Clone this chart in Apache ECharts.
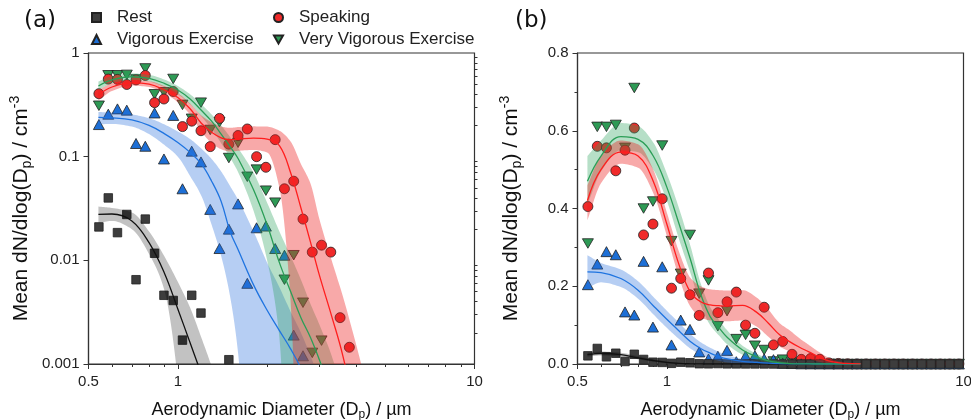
<!DOCTYPE html>
<html>
<head>
<meta charset="utf-8">
<script src="https://cdn.jsdelivr.net/npm/echarts@6/dist/echarts.min.js"></script>
<style>
  html, body { margin: 0; padding: 0; background: #fff; }
  #chart { width: 971px; height: 420px; }
</style>
</head>
<body>
<div id="chart"></div>
<script>
// APS channel midpoints (µm)
const binDiameters = [
  0.542, 0.583, 0.626, 0.673, 0.723, 0.777, 0.835, 0.898, 0.965, 1.037,
  1.114, 1.197, 1.286, 1.382, 1.486, 1.596, 1.715, 1.843, 1.981, 2.129,
  2.288, 2.458, 2.642, 2.839, 3.051, 3.278, 3.523, 3.786, 4.068, 4.371,
  4.698, 5.048, 5.425, 5.829, 6.264, 6.732, 7.234, 7.774, 8.354, 8.977,
  9.647
]
const restValues = [
  0.021, 0.040, 0.0185, 0.0277, 0.0065, 0.025, 0.0117, 0.0046, 0.0041, 0.0017,
  0.0046, 0.0031, 0.0007, 0.0005, 0.0011, 0.0004, 0.0003, 0.0002, 0.0002, 0.0001,
  0, 0, 0, 0, 0, 0, 0, 0, 0, 0,
  0, 0, 0, 0, 0, 0, 0, 0, 0, 0,
  0
]
const speakingValues = [
  0.405, 0.56, 0.556, 0.497, 0.55, 0.607, 0.332, 0.36, 0.425, 0.195,
  0.22, 0.178, 0.125, 0.234, 0.132, 0.16, 0.185, 0.10, 0.079, 0.146,
  0.049, 0.058, 0.025, 0.012, 0.014, 0.012, 0.0028, 0.00145, 0.0005, 0.0003,
  0.0002, 0, 0, 0, 0, 0, 0, 0, 0, 0,
  0
]
const vigorousValues = [
  0.204, 0.257, 0.289, 0.281, 0.134, 0.126, 0.264, 0.095, 0.25, 0.049,
  0.113, 0.089, 0.031, 0.013, 0.02, 0.035, 0.006, 0.0206, 0.0214, 0.013,
  0.0112, 0.0019, 0.0012, 0.0004, 0.0003, 0.0002, 0.0001, 0, 0, 0,
  0, 0, 0, 0, 0, 0, 0, 0, 0, 0,
  0
]
const veryVigorousValues = [
  0.31, 0.61, 0.61, 0.615, 0.556, 0.71, 0.40, 0.418, 0.562, 0.316,
  0.232, 0.332, 0.181, 0.215, 0.097, 0.136, 0.064, 0.075, 0.047, 0.036,
  0.0065, 0.0112, 0.0039, 0.00128, 0.00168, 0.0006, 0.0004, 0.0002, 0, 0,
  0, 0, 0, 0, 0, 0, 0, 0, 0, 0,
  0
]

// fit curves, read at these diameters
const fitDiameters = [0.54, 0.6, 0.7, 0.8, 0.9, 1.0, 1.1, 1.2, 1.3, 1.4, 1.5, 1.6, 1.8, 2.0, 2.2, 2.4, 2.6, 2.8, 3.0, 3.3, 3.6, 4.0, 4.5]

// (a) log fit: line, lower and upper edge of the band
const restFitA = [0.0277, 0.028, 0.024, 0.0148, 0.0076, 0.0034, 0.0016, 0.0008, 0.0004, 0.0002, 1e-4, 5e-5, 1e-5, 1e-6, 1e-6, 1e-6, 1e-6, 1e-6, 1e-6, 1e-6, 1e-6, 1e-6, 1e-6]
const restLoA = [0.023, 0.024, 0.020, 0.0115, 0.0052, 0.0007, 1e-5, 1e-6, 1e-6, 1e-6, 1e-6, 1e-6, 1e-6, 1e-6, 1e-6, 1e-6, 1e-6, 1e-6, 1e-6, 1e-6, 1e-6, 1e-6, 1e-6]
const restHiA = [0.033, 0.032, 0.029, 0.019, 0.011, 0.0062, 0.0035, 0.0018, 0.00095, 0.0005, 0.00025, 0.0001, 2e-5, 1e-6, 1e-6, 1e-6, 1e-6, 1e-6, 1e-6, 1e-6, 1e-6, 1e-6, 1e-6]

const vigorousFitA = [0.239, 0.237, 0.226, 0.20, 0.167, 0.137, 0.11, 0.085, 0.058, 0.037, 0.019, 0.0125, 0.0058, 0.0033, 0.0021, 0.0014, 0.0009, 0.0005, 0.0003, 0.00012, 5e-5, 1e-5, 1e-6]
const vigorousLoA = [0.205, 0.207, 0.195, 0.165, 0.13, 0.10, 0.065, 0.042, 0.022, 0.011, 0.0045, 0.0012, 1e-5, 1e-6, 1e-6, 1e-6, 1e-6, 1e-6, 1e-6, 1e-6, 1e-6, 1e-6, 1e-6]
const vigorousHiA = [0.27, 0.265, 0.255, 0.235, 0.205, 0.175, 0.148, 0.12, 0.095, 0.072, 0.052, 0.038, 0.019, 0.0095, 0.0055, 0.0032, 0.002, 0.0012, 0.0007, 0.0003, 0.0001, 2e-5, 1e-6]

const speakingFitA = [0.395, 0.47, 0.515, 0.50, 0.44, 0.372, 0.29, 0.21, 0.172, 0.152, 0.146, 0.148, 0.151, 0.148, 0.128, 0.07, 0.032, 0.015, 0.0072, 0.0029, 0.0012, 0.0003, 5e-5]
const speakingLoA = [0.35, 0.43, 0.485, 0.47, 0.41, 0.335, 0.255, 0.175, 0.135, 0.118, 0.112, 0.114, 0.116, 0.11, 0.05, 0.004, 1e-5, 1e-6, 1e-6, 1e-6, 1e-6, 1e-6, 1e-6]
const speakingHiA = [0.44, 0.51, 0.55, 0.535, 0.48, 0.41, 0.325, 0.25, 0.215, 0.195, 0.19, 0.193, 0.196, 0.195, 0.178, 0.14, 0.085, 0.055, 0.025, 0.01, 0.0045, 0.0015, 0.0004]

const veryVigorousFitA = [0.48, 0.55, 0.59, 0.57, 0.51, 0.44, 0.36, 0.28, 0.22, 0.165, 0.125, 0.095, 0.048, 0.022, 0.0095, 0.005, 0.0028, 0.0018, 0.0011, 0.0005, 0.0002, 5e-5, 1e-6]
const veryVigorousLoA = [0.44, 0.51, 0.55, 0.53, 0.47, 0.40, 0.32, 0.245, 0.185, 0.135, 0.098, 0.07, 0.03, 0.01, 0.0018, 1e-5, 1e-6, 1e-6, 1e-6, 1e-6, 1e-6, 1e-6, 1e-6]
const veryVigorousHiA = [0.53, 0.60, 0.635, 0.615, 0.555, 0.48, 0.40, 0.32, 0.255, 0.20, 0.155, 0.12, 0.07, 0.036, 0.019, 0.011, 0.0065, 0.0038, 0.0024, 0.0012, 0.0005, 0.0001, 1e-5]

// (b) linear fit
const restFitB = [0.024, 0.027, 0.024, 0.016, 0.009, 0.004, 0.0015, 0.0005, 0.0001, 0, 0, 0, 0, 0, 0, 0, 0, 0, 0, 0, 0, 0, 0]
const restLoB = [0.019, 0.022, 0.019, 0.012, 0.006, 0.002, 0.0005, 0, 0, 0, 0, 0, 0, 0, 0, 0, 0, 0, 0, 0, 0, 0, 0]
const restHiB = [0.029, 0.032, 0.029, 0.02, 0.012, 0.006, 0.0028, 0.001, 0.0003, 0, 0, 0, 0, 0, 0, 0, 0, 0, 0, 0, 0, 0, 0]

const vigorousFitB = [0.237, 0.235, 0.22, 0.19, 0.15, 0.115, 0.085, 0.058, 0.04, 0.028, 0.019, 0.013, 0.007, 0.004, 0.002, 0.001, 0.0005, 0.0002, 0.0001, 0, 0, 0, 0]
const vigorousLoB = [0.195, 0.21, 0.198, 0.168, 0.128, 0.093, 0.064, 0.04, 0.024, 0.014, 0.008, 0.004, 0.001, 0, 0, 0, 0, 0, 0, 0, 0, 0, 0]
const vigorousHiB = [0.28, 0.26, 0.243, 0.213, 0.173, 0.137, 0.106, 0.077, 0.056, 0.042, 0.031, 0.023, 0.013, 0.008, 0.004, 0.002, 0.001, 0, 0, 0, 0, 0, 0]

const speakingFitB = [0.42, 0.50, 0.545, 0.535, 0.47, 0.36, 0.255, 0.185, 0.16, 0.152, 0.15, 0.149, 0.151, 0.134, 0.105, 0.075, 0.057, 0.043, 0.032, 0.016, 0.006, 0.0015, 0.0002]
const speakingLoB = [0.37, 0.465, 0.515, 0.505, 0.44, 0.33, 0.222, 0.148, 0.12, 0.112, 0.11, 0.11, 0.112, 0.097, 0.07, 0.045, 0.032, 0.022, 0.014, 0.005, 0.001, 0, 0]
const speakingHiB = [0.46, 0.535, 0.575, 0.565, 0.50, 0.39, 0.288, 0.222, 0.20, 0.192, 0.19, 0.189, 0.19, 0.172, 0.14, 0.105, 0.086, 0.066, 0.05, 0.028, 0.012, 0.003, 0.0005]

const veryVigorousFitB = [0.47, 0.535, 0.585, 0.578, 0.535, 0.455, 0.36, 0.27, 0.18, 0.122, 0.093, 0.068, 0.036, 0.019, 0.008, 0.003, 0.0012, 0.0004, 0.0001, 0, 0, 0, 0]
const veryVigorousLoB = [0.41, 0.495, 0.55, 0.545, 0.50, 0.42, 0.32, 0.235, 0.152, 0.10, 0.073, 0.05, 0.024, 0.011, 0.004, 0.001, 0, 0, 0, 0, 0, 0, 0]
const veryVigorousHiB = [0.535, 0.575, 0.62, 0.612, 0.57, 0.49, 0.40, 0.305, 0.208, 0.146, 0.113, 0.086, 0.047, 0.027, 0.014, 0.007, 0.003, 0.001, 0, 0, 0, 0, 0]

// tick labels
const xMajorTicks = [0.5, 1, 10]
const xMinorTicks = [0.6, 0.7, 0.8, 0.9, 2, 3, 4, 5, 6, 7, 8, 9]
const yMajorTicksA = [0.001, 0.01, 0.1, 1]
const yMinorTicksA = [0.002, 0.003, 0.004, 0.005, 0.006, 0.007, 0.008, 0.009,
  0.02, 0.03, 0.04, 0.05, 0.06, 0.07, 0.08, 0.09, 0.2, 0.3, 0.4, 0.5, 0.6, 0.7, 0.8, 0.9]

const FONT = '"Liberation Sans", Arial, sans-serif'
const DOWN_TRI = 'path://M0,0L10,0L5,8.7Z'
const AXIS_COLOR = '#333'

const styles = {
  rest: { marker: '#3d3d3d', line: '#111111', band: 'rgba(0,0,0,0.24)', symbol: 'rect', size: 8.5 },
  speaking: { marker: '#f02a2a', line: '#ff1e1e', band: 'rgba(236,30,30,0.38)', symbol: 'circle', size: 10 },
  vigorous: { marker: '#1d6fd6', line: '#1f74e0', band: 'rgba(40,110,220,0.34)', symbol: 'triangle', size: [11, 10] },
  veryVigorous: { marker: '#2e9a55', line: '#2b9e57', band: 'rgba(40,160,90,0.34)', symbol: DOWN_TRI, size: [11, 9.5] }
}

function pairs(xs, ys, keepZero) {
  return xs.map((x, i) => [x, ys[i]]).filter(p => keepZero || p[1] > 0)
}

// monotone cubic through pixel points, sampled into a dense polyline
function monotonePolyline(pts) {
  const n = pts.length
  const d = []
  for (let i = 0; i < n - 1; i++) {
    d.push((pts[i + 1][1] - pts[i][1]) / (pts[i + 1][0] - pts[i][0]))
  }
  const m = [d[0]]
  for (let i = 1; i < n - 1; i++) {
    m.push(d[i - 1] * d[i] <= 0 ? 0 : 2 / (1 / d[i - 1] + 1 / d[i]))
  }
  m.push(d[n - 2])
  const out = [pts[0]]
  const steps = 10
  for (let i = 0; i < n - 1; i++) {
    const [x0, y0] = pts[i]
    const [x1, y1] = pts[i + 1]
    const h = x1 - x0
    for (let k = 1; k <= steps; k++) {
      const t = k / steps
      const h00 = 2 * t * t * t - 3 * t * t + 1
      const h10 = t * t * t - 2 * t * t + t
      const h01 = -2 * t * t * t + 3 * t * t
      const h11 = t * t * t - t * t
      out.push([x0 + h * t, h00 * y0 + h10 * h * m[i] + h01 * y1 + h11 * h * m[i + 1]])
    }
  }
  return out
}

function scatterSeries(name, values, st, xi, yi, logPanel) {
  return {
    name,
    type: 'scatter',
    xAxisIndex: xi,
    yAxisIndex: yi,
    data: pairs(binDiameters, values, !logPanel),
    symbol: st.symbol,
    symbolSize: st.size,
    itemStyle: { color: st.marker, borderColor: '#222', borderWidth: 0.8, opacity: 1 },
    clip: true,
    silent: true,
    z: 2
  }
}

function fitSeries(values, st, xi, yi) {
  return {
    type: 'line',
    xAxisIndex: xi,
    yAxisIndex: yi,
    data: pairs(fitDiameters, values, true),
    smooth: 0.4,
    symbol: 'none',
    lineStyle: { color: st.line, width: 1.3 },
    clip: true,
    silent: true,
    z: 4
  }
}

function bandSeries(lo, hi, st, xi, yi) {
  return {
    type: 'custom',
    xAxisIndex: xi,
    yAxisIndex: yi,
    data: [[fitDiameters[0], lo[0]]],
    clip: true,
    silent: true,
    z: 3,
    renderItem: (params, api) => {
      const upper = monotonePolyline(fitDiameters.map((x, i) => api.coord([x, hi[i]])))
      const lower = monotonePolyline(fitDiameters.map((x, i) => api.coord([x, lo[i]])))
      const cs = params.coordSys
      return {
        type: 'group',
        clipPath: { type: 'rect', shape: { x: cs.x, y: cs.y, width: cs.width, height: cs.height } },
        children: [{
          type: 'polygon',
          shape: { points: upper.concat(lower.reverse()) },
          style: { fill: st.band }
        }]
      }
    }
  }
}

const yName = '{n|Mean dN/dlog(D}{s|p}{n|) / cm}{u|-3}'
const xName = '{n|Aerodynamic Diameter (D}{s|p}{n|) / µm}'
const xRich = {
  n: { fontSize: 18, fontFamily: FONT, color: '#111', lineHeight: 22, verticalAlign: 'middle' },
  s: { fontSize: 12, fontFamily: FONT, color: '#111', lineHeight: 12, verticalAlign: 'bottom' }
}
const yRich = {
  n: { fontSize: 21, fontFamily: FONT, color: '#111', lineHeight: 26, verticalAlign: 'middle' },
  s: { fontSize: 14, fontFamily: FONT, color: '#111', lineHeight: 13, verticalAlign: 'bottom' },
  u: { fontSize: 14, fontFamily: FONT, color: '#111', lineHeight: 13, verticalAlign: 'top' }
}
const labelStyle = { fontSize: 15, fontFamily: FONT, color: '#222' }

function logXAxes(gridIndex) {
  return [
    {
      type: 'log', logBase: 10, gridIndex, min: 0.5, max: 10, position: 'bottom',
      axisLine: { show: true, lineStyle: { color: AXIS_COLOR, width: 1.2 } },
      axisTick: { show: true, length: 5, customValues: xMajorTicks, lineStyle: { color: AXIS_COLOR } },
      axisLabel: Object.assign({ customValues: xMajorTicks, margin: 10, formatter: v => String(+v.toPrecision(3)) }, labelStyle),
      splitLine: { show: false },
      minorTick: { show: false },
      name: xName, nameLocation: 'middle', nameGap: 35,
      nameTextStyle: { rich: xRich }
    },
    {
      type: 'log', logBase: 10, gridIndex, min: 0.5, max: 10, position: 'bottom',
      axisLine: { show: false },
      axisTick: { show: true, length: 3, customValues: xMinorTicks, lineStyle: { color: AXIS_COLOR } },
      axisLabel: { show: false },
      splitLine: { show: false }
    }
  ]
}

const series = []
// panel (a)
series.push(
  scatterSeries('Very Vigorous Exercise', veryVigorousValues, styles.veryVigorous, 0, 0, true),
  scatterSeries('Speaking', speakingValues, styles.speaking, 0, 0, true),
  scatterSeries('Vigorous Exercise', vigorousValues, styles.vigorous, 0, 0, true),
  scatterSeries('Rest', restValues, styles.rest, 0, 0, true),
  bandSeries(restLoA, restHiA, styles.rest, 0, 0),
  bandSeries(vigorousLoA, vigorousHiA, styles.vigorous, 0, 0),
  bandSeries(veryVigorousLoA, veryVigorousHiA, styles.veryVigorous, 0, 0),
  bandSeries(speakingLoA, speakingHiA, styles.speaking, 0, 0),
  fitSeries(restFitA, styles.rest, 0, 0),
  fitSeries(vigorousFitA, styles.vigorous, 0, 0),
  fitSeries(veryVigorousFitA, styles.veryVigorous, 0, 0),
  fitSeries(speakingFitA, styles.speaking, 0, 0)
)
// panel (b)
series.push(
  scatterSeries('Very Vigorous Exercise', veryVigorousValues, styles.veryVigorous, 2, 2, false),
  scatterSeries('Speaking', speakingValues, styles.speaking, 2, 2, false),
  scatterSeries('Vigorous Exercise', vigorousValues, styles.vigorous, 2, 2, false),
  scatterSeries('Rest', restValues, styles.rest, 2, 2, false),
  bandSeries(restLoB, restHiB, styles.rest, 2, 2),
  bandSeries(vigorousLoB, vigorousHiB, styles.vigorous, 2, 2),
  bandSeries(veryVigorousLoB, veryVigorousHiB, styles.veryVigorous, 2, 2),
  bandSeries(speakingLoB, speakingHiB, styles.speaking, 2, 2),
  fitSeries(restFitB, styles.rest, 2, 2),
  fitSeries(vigorousFitB, styles.vigorous, 2, 2),
  fitSeries(veryVigorousFitB, styles.veryVigorous, 2, 2),
  fitSeries(speakingFitB, styles.speaking, 2, 2)
)

const legendText = { fontSize: 17, fontFamily: FONT, color: '#222', padding: [0, 0, 0, 11] }
const option = {
  animation: false,
  backgroundColor: '#fff',
  title: [
    { text: '(a)', left: 24, top: 10, padding: 0, textStyle: { fontFamily: '"DejaVu Sans", sans-serif', fontSize: 23, fontWeight: 'normal', color: '#111' } },
    { text: '(b)', left: 515, top: 10, padding: 0, textStyle: { fontFamily: '"DejaVu Sans", sans-serif', fontSize: 23, fontWeight: 'normal', color: '#111' } }
  ],
  legend: [
    {
      orient: 'vertical', left: 91, top: 9, padding: 0, itemGap: 5, itemWidth: 9, itemHeight: 9,
      data: [{ name: 'Rest', icon: 'rect' }, { name: 'Vigorous Exercise', icon: 'triangle' }],
      textStyle: legendText, selectedMode: false
    },
    {
      orient: 'vertical', left: 273, top: 9, padding: 0, itemGap: 5, itemWidth: 9, itemHeight: 9,
      data: [{ name: 'Speaking', icon: 'circle' }, { name: 'Very Vigorous Exercise', icon: DOWN_TRI }],
      textStyle: legendText, selectedMode: false
    }
  ],
  grid: [
    { left: 88.5, top: 53, width: 386, height: 311, outerBoundsMode: 'none', containLabel: false, show: true, borderColor: AXIS_COLOR, borderWidth: 1.2, backgroundColor: 'transparent' },
    { left: 577.5, top: 53, width: 386, height: 311, outerBoundsMode: 'none', containLabel: false, show: true, borderColor: AXIS_COLOR, borderWidth: 1.2, backgroundColor: 'transparent' }
  ],
  xAxis: [...logXAxes(0), ...logXAxes(1)],
  yAxis: [
    {
      type: 'log', logBase: 10, gridIndex: 0, min: 0.001, max: 1,
      axisLine: { show: true, lineStyle: { color: AXIS_COLOR, width: 1.2 } },
      axisTick: { show: true, length: 5, customValues: yMajorTicksA, lineStyle: { color: AXIS_COLOR } },
      axisLabel: Object.assign({ customValues: yMajorTicksA, margin: 9, formatter: v => String(+v.toPrecision(3)) }, labelStyle),
      splitLine: { show: false },
      name: yName, nameLocation: 'middle', nameGap: 54,
      nameTextStyle: { rich: yRich }
    },
    {
      type: 'log', logBase: 10, gridIndex: 0, min: 0.001, max: 1,
      axisLine: { show: false },
      axisTick: { show: true, length: 3, customValues: yMinorTicksA, lineStyle: { color: AXIS_COLOR } },
      axisLabel: { show: false },
      splitLine: { show: false }
    },
    {
      type: 'value', gridIndex: 1, min: 0, max: 0.8, interval: 0.2,
      axisLine: { show: true, lineStyle: { color: AXIS_COLOR, width: 1.2 } },
      axisTick: { show: true, length: 5, lineStyle: { color: AXIS_COLOR } },
      minorTick: { show: true, splitNumber: 2, length: 3, lineStyle: { color: AXIS_COLOR } },
      axisLabel: Object.assign({ margin: 9, formatter: v => v.toFixed(1) }, labelStyle),
      splitLine: { show: false },
      name: yName, nameLocation: 'middle', nameGap: 53,
      nameTextStyle: { rich: yRich }
    }
  ],
  series
}

const chart = echarts.init(document.getElementById('chart'))
chart.setOption(option)
</script>
</body>
</html>
